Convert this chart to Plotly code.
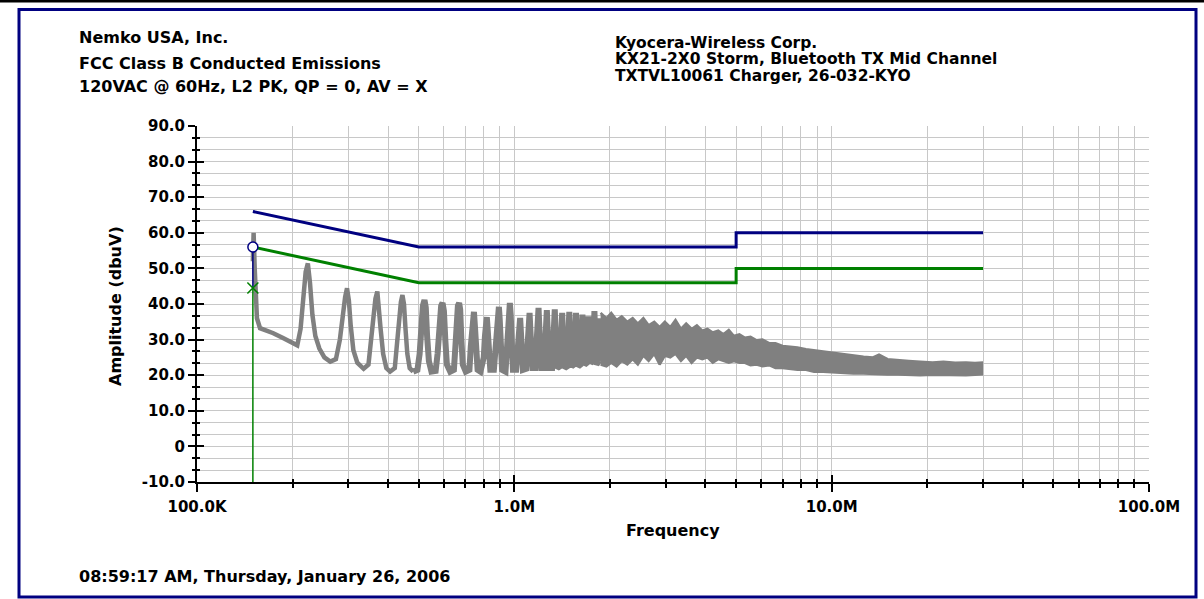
import plotly.graph_objects as go

# ---------------- data ----------------
# measured peak trace, harmonic region: (frequency kHz, amplitude dBuV)
trace_khz_dbuv = [
    (150.0, 52), (150.8, 60), (152.0, 50), (154.5, 36), (158, 33.2), (166, 32.5), (174, 31.8), (186, 30.5),
    (197, 29.4), (207, 28.4), (212, 33), (216, 42), (220, 49), (223.5, 51.4), (227, 46), (231, 37), (236, 31),
    (243, 27.5), (252, 25), (263, 23.8), (274, 24.5), (282, 30), (288, 37), (293, 42), (297, 44.4), (301, 41),
    (305, 34), (311, 27), (320, 23.5), (335, 21.8), (347, 23), (354, 30), (360, 37), (365, 41.5), (370, 43.5),
    (374, 40), (379, 33), (386, 26), (395, 22), (406, 21), (420, 22), (427, 29), (433, 36), (439, 40.5),
    (444, 42.5), (449, 40), (454, 33), (460, 26), (468, 22), (480, 21), (495, 21.5), (503, 26), (509, 34),
    (515, 39.5), (521, 41.1), (526, 39), (531, 31), (538, 24), (548, 21), (565, 21.2), (573, 26), (580, 34),
    (588, 39.5), (594, 40.3), (600, 38), (606, 30), (613, 23), (628, 21), (645, 21.5), (652, 28), (658, 35),
    (664, 39.5), (670, 40.3), (675, 38.5), (681, 30), (688, 23), (703, 21), (722, 21.5), (729, 28), (735, 34),
    (741, 37.5), (746, 37.8), (751, 34), (757, 26), (766, 21.5), (782, 21), (801, 25), (808, 31), (814, 35.5),
    (819, 36.3), (824, 33), (830, 26), (840, 21.5), (862, 21.5), (873, 29), (881, 36), (888, 39), (894, 39.2),
    (899, 36), (905, 28), (915, 21.5), (938, 21), (948, 29), (955, 36), (962, 40), (968, 40.3), (974, 37),
    (980, 28), (990, 21.5), (1013, 21.5), (1023, 28), (1031, 34), (1038, 36), (1043, 36.1), (1049, 32),
    (1055, 25), (1064, 21.5), (1089, 21.8), (1098, 28), (1106, 34), (1112, 37.3), (1117, 37.5), (1123, 33),
    (1129, 26), (1140, 22), (1163, 22), (1172, 29), (1180, 35), (1187, 38.5), (1192, 38.9), (1197, 35),
    (1204, 27), (1215, 22), (1240, 22), (1249, 29), (1256, 35), (1262, 38), (1266, 38.3), (1272, 34),
    (1279, 27), (1290, 22), (1315, 22), (1324, 29), (1332, 35), (1337, 38.2), (1341, 38.5), (1347, 34),
    (1354, 27), (1365, 22), (1392, 22.5), (1400, 29), (1407, 34), (1412, 37.2), (1415, 37.5), (1421, 33),
    (1428, 27), (1440, 22), (1467, 22.5), (1476, 29), (1483, 34), (1487, 37.5), (1490, 37.8), (1496, 33),
    (1503, 27), (1515, 22.5), (1542, 23), (1550, 29), (1557, 34), (1561, 37.2), (1564, 37.5), (1570, 33),
    (1577, 27), (1590, 22.5), (1617, 23), (1626, 29), (1633, 34), (1636, 36.8), (1639, 37), (1645, 33),
    (1652, 27), (1665, 23), (1693, 23.5), (1701, 29), (1708, 34), (1711, 36.2), (1713, 36.5), (1719, 33),
    (1726, 27), (1740, 23.5), (1770, 24), (1778, 30), (1784, 35), (1786, 37.7), (1788, 38), (1794, 34),
    (1801, 28), (1815, 23), (1845, 24), (1853, 30), (1859, 35), (1862, 36), (1868, 32), (1876, 27), (1890, 24),
]

# dense high-frequency part: envelope of the trace, MHz / dBuV
band_freq_mhz = [1.87, 1.95, 2.02, 2.10, 2.18, 2.27, 2.36, 2.45, 2.55, 2.65, 2.76, 2.87, 2.98, 3.10, 3.22, 3.35,
                 3.48, 3.62, 3.76, 3.91, 4.06, 4.22, 4.39, 4.56, 4.74, 4.92, 5.12, 5.33, 5.55, 5.80, 6.05, 6.35,
                 6.65, 7.0, 7.4, 7.8, 8.3, 8.8, 9.4, 10.1, 10.9, 11.7, 12.6, 13.5, 14.1, 15.0, 16.2, 17.5, 19.0,
                 20.8, 22.5, 24.5, 26.5, 28.3, 30.0]
band_upper = [37.5, 36, 37.5, 35.5, 36.5, 35, 36, 34.5, 36, 34, 35, 33.5, 35, 33.5, 35.5, 33,
              34.5, 33, 34, 32.5, 33, 32, 32.5, 31.5, 32.7, 31, 31.5, 30.5, 30.8, 29.8, 30, 29,
              29, 28.2, 28, 27.8, 27.3, 27, 26.8, 26.3, 26, 25.5, 25.2, 25, 25.8, 24.5, 24.2, 24, 23.8,
              23.6, 23.8, 23.5, 23.6, 23.4, 23.6]
band_lower = [23, 22.5, 23.5, 22.5, 24, 23, 24.5, 23, 25.5, 24, 26, 23, 25.5, 25, 26, 24,
              25.5, 23.5, 25, 24.5, 25, 23.5, 24.5, 24, 23.5, 24, 23.5, 23.5, 22.8, 23, 22.5, 22.8,
              22, 22, 21.8, 21.5, 21.5, 21, 21, 20.8, 20.7, 20.5, 20.5, 20.3, 20.3, 20.2, 20.2, 20.1, 20,
              20.1, 20, 20.1, 20, 20.1, 20.3]

# limits (MHz / dBuV)
limit_freq_mhz = [0.15, 0.5, 5, 5, 30]
qp_limit = [66, 56, 56, 60, 60]
av_limit = [56, 46, 46, 50, 50]

# measured points
meas_freq_mhz = [0.15]
qp_meas = [56.0]
av_meas = [44.5]

# axis
y_min, y_max = -10, 90
y_tick_vals = [90, 80, 70, 60, 50, 40, 30, 20, 10, 0, -10]
y_tick_text = ["90.0", "80.0", "70.0", "60.0", "50.0", "40.0", "30.0", "20.0", "10.0", "0", "-10.0"]
x_tick_vals = [1e5, 1e6, 1e7, 1e8]
x_tick_text = ["100.0K", "1.0M", "10.0M", "100.0M"]

header_left = ["Nemko USA, Inc.", "FCC Class B Conducted Emissions", "120VAC @ 60Hz, L2 PK, QP = 0, AV = X"]
header_right = ["Kyocera-Wireless Corp.", "KX21-2X0 Storm, Bluetooth TX Mid Channel", "TXTVL10061 Charger, 26-032-KYO"]
footer = "08:59:17 AM, Thursday, January 26, 2006"

# ---------------- styling ----------------
NAVY = "#000080"
GREEN = "#008000"
GRAY = "#808080"
GRID = "#c8c8c8"
FONT = "DejaVu Sans"

W, H = 1204, 599
L, R, T, B = 197, 55, 126, 117
PW, PH = W - L - R, H - T - B


def px(xp):
    return (xp - L) / PW


def py(yp):
    return (H - B - yp) / PH


x_minor = [m * 10 ** e for e in (5, 6, 7) for m in range(2, 10)]
y_minor = [y_min + k * 10 / 3 for k in range(31) if k % 3 != 0]

fig = go.Figure()

# gray spectrum: dense band
band_hz = [f * 1e6 for f in band_freq_mhz]
fig.add_trace(go.Scatter(x=band_hz, y=band_lower, mode="lines", line=dict(color=GRAY, width=2.5),
                         hoverinfo="skip", showlegend=False))
fig.add_trace(go.Scatter(x=band_hz, y=band_upper, mode="lines", line=dict(color=GRAY, width=2.5),
                         fill="tonexty", fillcolor=GRAY, hoverinfo="skip", showlegend=False))
# gray spectrum: harmonic region (thinner below ~480 kHz, heavier above)
split = 480
low_pts = [p for p in trace_khz_dbuv if p[0] <= split]
high_pts = [p for p in trace_khz_dbuv if p[0] >= split]
fig.add_trace(go.Scatter(x=[p[0] * 1e3 for p in low_pts], y=[p[1] for p in low_pts],
                         mode="lines", line=dict(color=GRAY, width=4.5), hoverinfo="skip", showlegend=False))
fig.add_trace(go.Scatter(x=[p[0] * 1e3 for p in high_pts], y=[p[1] for p in high_pts],
                         mode="lines", line=dict(color=GRAY, width=6), hoverinfo="skip", showlegend=False))

lim_hz = [f * 1e6 for f in limit_freq_mhz]
fig.add_trace(go.Scatter(x=lim_hz, y=qp_limit, mode="lines", line=dict(color=NAVY, width=3),
                         showlegend=False))
fig.add_trace(go.Scatter(x=lim_hz, y=av_limit, mode="lines", line=dict(color=GREEN, width=3),
                         showlegend=False))

mf = meas_freq_mhz[0] * 1e6
# drop lines
fig.add_trace(go.Scatter(x=[mf, mf], y=[av_meas[0], y_min], mode="lines", line=dict(color=GREEN, width=1.5),
                         showlegend=False, hoverinfo="skip"))
fig.add_trace(go.Scatter(x=[mf, mf], y=[qp_meas[0], av_meas[0]], mode="lines", line=dict(color=NAVY, width=1.5),
                         showlegend=False, hoverinfo="skip"))
fig.add_trace(go.Scatter(x=[f * 1e6 for f in meas_freq_mhz], y=av_meas, mode="markers",
                         marker=dict(symbol="x-thin", size=11, line=dict(color=GREEN, width=1.5)),
                         showlegend=False))
fig.add_trace(go.Scatter(x=[f * 1e6 for f in meas_freq_mhz], y=qp_meas, mode="markers",
                         marker=dict(symbol="circle", size=10, color="white", line=dict(color=NAVY, width=1.5)),
                         showlegend=False))

# dummy trace on overlay axes so the inside ticks are drawn
fig.add_trace(go.Scatter(x=lim_hz, y=qp_limit, xaxis="x2", yaxis="y2", mode="lines",
                         line=dict(width=0, color="rgba(0,0,0,0)"), hoverinfo="skip", showlegend=False))

tickfont = dict(family=FONT, size=15, color="black", weight="bold")

fig.update_layout(
    width=W, height=H,
    margin=dict(l=L, r=R, t=T, b=B, pad=0),
    paper_bgcolor="white", plot_bgcolor="white",
    showlegend=False,
    xaxis=dict(type="log", range=[5, 8], tickmode="array", tickvals=x_tick_vals, ticktext=x_tick_text,
               ticks="outside", ticklen=8, tickwidth=1.5, tickcolor="black",
               showline=True, linecolor="black", linewidth=2,
               showgrid=True, gridcolor=GRID, gridwidth=1, zeroline=False,
               tickfont=tickfont, ticklabelstandoff=2,
               minor=dict(tickmode="array", tickvals=x_minor, ticks="outside", ticklen=4, tickwidth=1.5,
                          tickcolor="black", showgrid=True, gridcolor=GRID, gridwidth=1)),
    yaxis=dict(range=[y_min, y_max], tickmode="array", tickvals=y_tick_vals, ticktext=y_tick_text,
               ticks="outside", ticklen=7, tickwidth=1.5, tickcolor="black",
               showline=True, linecolor="black", linewidth=2,
               showgrid=True, gridcolor=GRID, gridwidth=1, zeroline=False,
               tickfont=tickfont,
               minor=dict(tickmode="array", tickvals=y_minor, ticks="outside", ticklen=3, tickwidth=1.5,
                          tickcolor="black", showgrid=True, gridcolor=GRID, gridwidth=1)),
    xaxis2=dict(type="log", range=[5, 8], overlaying="x", anchor="y", side="bottom",
                tickmode="array", tickvals=x_tick_vals, ticks="inside", ticklen=7, tickwidth=1.5,
                tickcolor="black", showticklabels=False, showgrid=False, showline=False, zeroline=False,
                minor=dict(tickmode="array", tickvals=x_minor, ticks="inside", ticklen=3, tickwidth=1.5,
                           tickcolor="black", showgrid=False)),
    yaxis2=dict(range=[y_min, y_max], overlaying="y", anchor="x", side="left",
                tickmode="array", tickvals=y_tick_vals, ticks="inside", ticklen=7, tickwidth=1.5,
                tickcolor="black", showticklabels=False, showgrid=False, showline=False, zeroline=False,
                minor=dict(tickmode="array", tickvals=y_minor, ticks="inside", ticklen=3, tickwidth=1.5,
                           tickcolor="black", showgrid=False)),
)

ann = []
hfont = dict(family=FONT, size=16, color="black", weight="bold")
rfont = dict(family=FONT, size=15.5, color="black", weight="bold")
for txt, yc in zip(header_left, [37.5, 63, 86.5]):
    ann.append(dict(text=txt, x=px(77), y=py(yc), xref="paper", yref="paper", xanchor="left", yanchor="middle",
                    showarrow=False, font=hfont))
for txt, yc in zip(header_right, [43, 59.5, 76]):
    ann.append(dict(text=txt, x=px(613), y=py(yc), xref="paper", yref="paper", xanchor="left", yanchor="middle",
                    showarrow=False, font=rfont))
ann.append(dict(text=footer, x=px(77), y=py(576.5), xref="paper", yref="paper", xanchor="left",
                yanchor="middle", showarrow=False, font=hfont))
ann.append(dict(text="Frequency", x=px(673), y=py(530), xref="paper", yref="paper", xanchor="center",
                yanchor="middle", showarrow=False, font=hfont))
ann.append(dict(text="Amplitude (dbuV)", x=px(115), y=py(306), xref="paper", yref="paper", xanchor="center",
                yanchor="middle", showarrow=False, font=hfont, textangle=-90))
fig.update_layout(annotations=ann)

shapes = [
    dict(type="rect", xref="paper", yref="paper", x0=px(19), x1=px(1196), y0=py(9.5), y1=py(597),
         line=dict(color=NAVY, width=3), fillcolor="rgba(0,0,0,0)", layer="below"),
    dict(type="line", xref="paper", yref="paper", x0=px(0), x1=px(W), y0=py(1), y1=py(1),
         line=dict(color="black", width=3)),
]
fig.update_layout(shapes=shapes)

fig.write_html("out.html", config={"displayModeBar": False},
               post_script="document.body.style.margin='0px';")
